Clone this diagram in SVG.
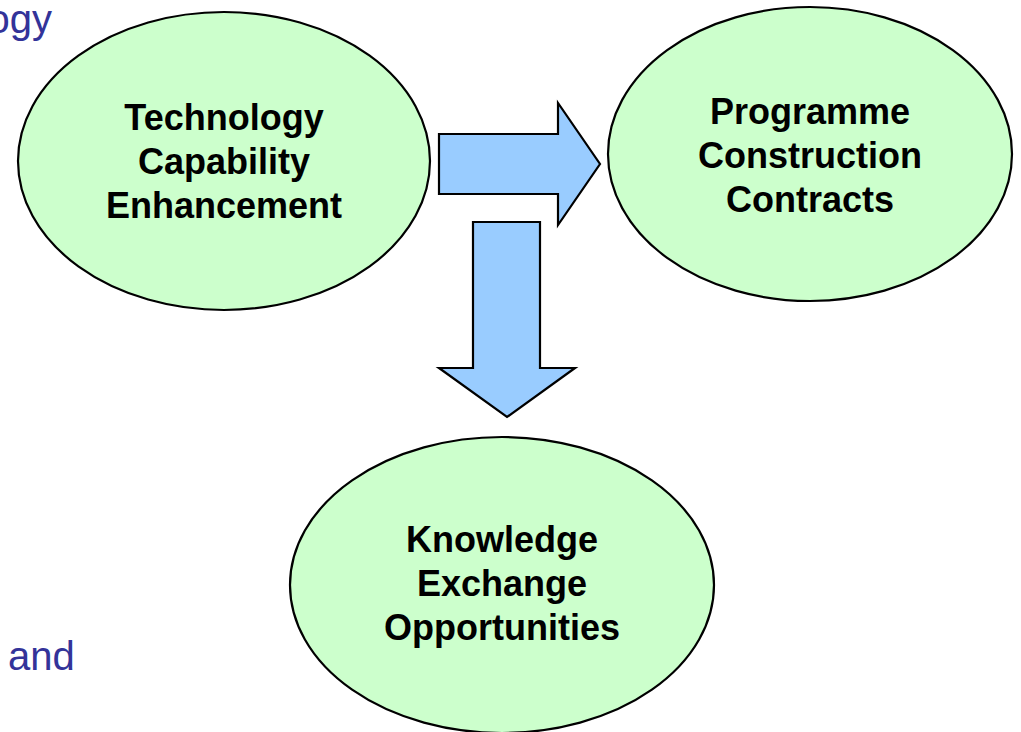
<svg xmlns="http://www.w3.org/2000/svg" width="1021" height="732" viewBox="0 0 1021 732">
<style>
.node{fill:#CCFFCC;stroke:#000;stroke-width:2.2}
.arrow{fill:#99CCFF;stroke:#000;stroke-width:2.2;stroke-linejoin:miter}
.lbl{font-family:"Liberation Sans",Arial,sans-serif;font-weight:bold;font-size:36px;fill:#000;text-anchor:middle}
.bg{font-family:"Liberation Sans",Arial,sans-serif;font-size:40px;fill:#333399}
</style>
<rect width="1021" height="732" fill="#fff"/>
<text class="bg" x="52" y="33" text-anchor="end">ogy</text>
<text class="bg" x="8" y="670">and</text>
<g id="connectors">
<polygon class="arrow" points="439,134 558,134 558,103 600,164 558,225 558,194 439,194"/>
<polygon class="arrow" points="473,222 540,222 540,368 575,368 507,417 439,368 473,368"/>
</g>
<g id="tce">
<ellipse class="node" cx="224" cy="161" rx="206" ry="149"/>
<text class="lbl" x="224" y="130">Technology</text>
<text class="lbl" x="224" y="174">Capability</text>
<text class="lbl" x="224" y="218">Enhancement</text>
</g>
<g id="pcc">
<ellipse class="node" cx="810" cy="154" rx="202" ry="147"/>
<text class="lbl" x="810" y="124">Programme</text>
<text class="lbl" x="810" y="168">Construction</text>
<text class="lbl" x="810" y="212">Contracts</text>
</g>
<g id="keo">
<ellipse class="node" cx="502" cy="585" rx="212" ry="148"/>
<text class="lbl" x="502" y="552">Knowledge</text>
<text class="lbl" x="502" y="596">Exchange</text>
<text class="lbl" x="502" y="640">Opportunities</text>
</g>
</svg>
